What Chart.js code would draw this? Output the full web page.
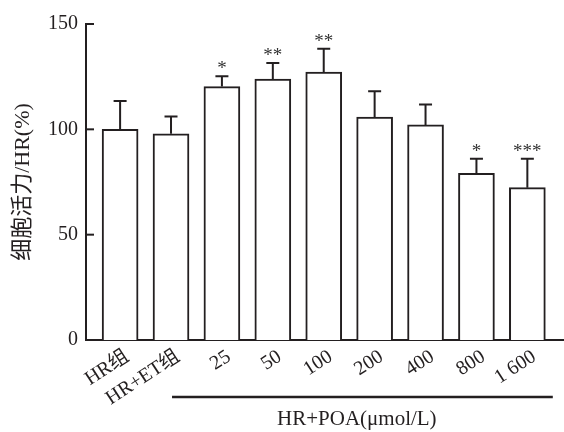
<!DOCTYPE html>
<html>
<head>
<meta charset="utf-8">
<script src="https://cdn.jsdelivr.net/npm/chart.js@4/dist/chart.umd.min.js"></script>
<style>
html,body{margin:0;padding:0;background:#fff;}
canvas{display:block;}
</style>
</head>
<body>
<canvas id="c" width="564" height="432"></canvas>
<script>
const categories = ['HR组', 'HR+ET组', '25', '50', '100', '200', '400', '800', '1 600'];
const values = [100, 97.9, 120.3, 123.9, 127.2, 105.8, 102.1, 79.1, 72.3];
const errors = [13.5, 8.2, 4.9, 7.6, 11.1, 12.3, 9.7, 6.9, 13.7];
const significance = ['', '', '*', '**', '**', '', '', '*', '***'];
const yTicks = [0, 50, 100, 150];
const groupLabel = 'HR+POA(μmol/L)';
const groupStart = 1.02, groupEnd = 8.5, groupTextCenter = 4.65;
const yTitle = '细胞活力/HR(%)';

const INK = '#231f20';
const FONT = '"Liberation Serif", "Noto Sans CJK SC", serif';

const points = values.map((v, i) => ({x: i, y: v}));

const decorations = {
  id: 'decorations',
  afterDatasetsDraw(chart) {
    const ctx = chart.ctx;
    const ys = chart.scales.y;
    const meta = chart.getDatasetMeta(0);
    ctx.save();
    ctx.strokeStyle = INK;
    ctx.lineWidth = 2;
    meta.data.forEach((bar, i) => {
      const top = ys.getPixelForValue(values[i]);
      const et = ys.getPixelForValue(values[i] + errors[i]);
      ctx.beginPath();
      ctx.moveTo(bar.x, top);
      ctx.lineTo(bar.x, et);
      ctx.moveTo(bar.x - 6.5, et);
      ctx.lineTo(bar.x + 6.5, et);
      ctx.stroke();
      if (significance[i]) {
        ctx.fillStyle = '#333';
        ctx.font = '19px ' + FONT;
        ctx.textAlign = 'center';
        ctx.textBaseline = 'alphabetic';
        ctx.fillText(significance[i], bar.x, et - 2);
      }
    });
    ctx.restore();
  },
  afterDraw(chart) {
    const ctx = chart.ctx;
    const ys = chart.scales.y, xs = chart.scales.x;
    ctx.save();
    ctx.strokeStyle = INK;
    ctx.lineWidth = 2;
    ys.ticks.forEach(t => {
      const py = ys.getPixelForValue(t.value);
      ctx.beginPath();
      ctx.moveTo(ys.right, py);
      ctx.lineTo(ys.right + 8, py);
      ctx.stroke();
    });
    const lineY = chart.chartArea.bottom + 57;
    ctx.lineWidth = 2.5;
    ctx.beginPath();
    ctx.moveTo(xs.getPixelForValue(groupStart), lineY);
    ctx.lineTo(xs.getPixelForValue(groupEnd), lineY);
    ctx.stroke();
    ctx.fillStyle = INK;
    ctx.font = '21px ' + FONT;
    ctx.textAlign = 'center';
    ctx.textBaseline = 'middle';
    ctx.fillText(groupLabel, xs.getPixelForValue(groupTextCenter), lineY + 22);
    ctx.restore();
  }
};

new Chart(document.getElementById('c'), {
  type: 'bar',
  data: {
    datasets: [{
      data: points,
      backgroundColor: '#ffffff',
      borderColor: INK,
      borderWidth: 2,
      barThickness: 36
    }]
  },
  options: {
    responsive: false,
    animation: false,
    events: [],
    layout: {padding: {left: 0, right: 0, top: 24, bottom: 0}},
    plugins: {legend: {display: false}, tooltip: {enabled: false}},
    scales: {
      x: {
        type: 'linear',
        offset: false,
        min: -0.67,
        max: 8.72,
        grid: {display: false, drawTicks: false, tickLength: 0},
        border: {display: true, color: INK, width: 2},
        ticks: {
          includeBounds: false,
          stepSize: 1,
          autoSkip: false,
          minRotation: 33,
          maxRotation: 33,
          padding: 5,
          labelOffset: 7,
          color: INK,
          font: {family: FONT, size: 20},
          callback: (v) => (Number.isInteger(v) && v >= 0 && v < categories.length) ? categories[v] : ''
        },
        afterFit: (s) => { s.height = 92; s.paddingLeft = 0; s.paddingRight = 0; }
      },
      y: {
        min: 0,
        max: 150,
        grid: {display: false, drawTicks: false, tickLength: 0},
        border: {display: true, color: INK, width: 2},
        afterBuildTicks: (s) => { s.ticks = yTicks.map(v => ({value: v})); },
        ticks: {
          padding: 8,
          color: INK,
          font: {family: FONT, size: 20}
        },
        title: {
          display: true,
          text: yTitle,
          color: INK,
          font: {family: FONT, size: 22},
          padding: {top: 10, bottom: 0}
        },
        afterFit: (s) => { s.width = 86; }
      }
    }
  },
  plugins: [decorations]
});
</script>
</body>
</html>
